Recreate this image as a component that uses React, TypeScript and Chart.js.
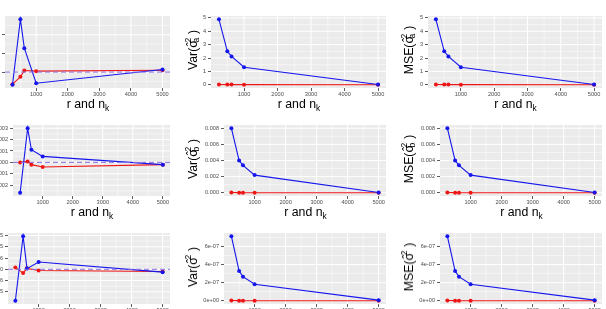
import React, { useEffect, useRef } from "react";
import { Chart, registerables } from "chart.js";

Chart.register(...registerables);

// Sample sizes (r = n_k) on the x axis
const sizes = [250, 500, 625, 1000, 5000];
const xTickValues = [1000, 2000, 3000, 4000, 5000];

// Bias of the sigma_a^2 estimates
const biasA1 = [-0.136, 0.567, 0.256, -0.12, 0.028];
const biasA2 = [-0.13, -0.051, 0.017, 0.01, 0.02];
const biasATicks = [0, 0.2, 0.4];
const biasALabels = ["0.0", "0.2", "0.4"];

// Bias of the sigma_b^2 estimates
const biasB1 = [-0.000267, 0.0003, 0.000111, 0.0000525, -0.00002];
const biasB2 = [0, 0.0000083, -0.00002, -0.00004, -0.00002];
const biasBTicks = [-0.0002, -0.0001, 0, 0.0001, 0.0002, 0.0003];
const biasBLabels = ["-0.0002", "-0.0001", "0.0000", "0.0001", "0.0002", "0.0003"];

// Bias of the sigma^2 estimates
const biasE1 = [-1.4e-5, 1.47e-5, 0.3e-6, 3.26e-6, -1.27e-6];
const biasE2 = [0.85e-6, -1.7e-6, 0.42e-6, -0.55e-6, -0.97e-6];
const biasETicks = [-1e-5, -5e-6, 0, 5e-6, 1e-5, 1.5e-5];
const biasELabels = ["-1.0e-05", "-5.0e-06", "0.0e+00", "5.0e-06", "1.0e-05", "1.5e-05"];

// Variance of the estimates
const varA1 = [4.9, 2.5, 2.12, 1.31, 0.02];
const varA2 = [0.02, 0.012, 0.01, 0.006, 0.001];
const varATicks = [0, 1, 2, 3, 4, 5];
const varALabels = ["0", "1", "2", "3", "4", "5"];

const varB1 = [0.008, 0.004, 0.0034, 0.00219, 0.00004];
const varB2 = [0.00003, 0.000015, 0.000012, 0.000008, 0.000002];
const varBTicks = [0, 0.002, 0.004, 0.006, 0.008];
const varBLabels = ["0.000", "0.002", "0.004", "0.006", "0.008"];

const varE1 = [7.12e-7, 3.28e-7, 2.66e-7, 1.83e-7, 0.07e-7];
const varE2 = [3e-9, 1.5e-9, 1.2e-9, 0.8e-9, 0.2e-9];
const varETicks = [0, 2e-7, 4e-7, 6e-7];
const varELabels = ["0e+00", "2e-07", "4e-07", "6e-07"];

// Mean squared error of the estimates
const mseA1 = [4.9, 2.5, 2.12, 1.31, 0.02];
const mseA2 = [0.02, 0.012, 0.01, 0.006, 0.001];
const mseB1 = [0.008, 0.004, 0.0034, 0.00219, 0.00004];
const mseB2 = [0.00003, 0.000015, 0.000012, 0.000008, 0.000002];
const mseE1 = [7.12e-7, 3.28e-7, 2.66e-7, 1.83e-7, 0.07e-7];
const mseE2 = [3e-9, 1.5e-9, 1.2e-9, 0.8e-9, 0.2e-9];

// Styling / layout
const FONT = "'Liberation Sans', Arial, Helvetica, sans-serif";
const BLUE = "#1515EE";
const RED = "#EE1515";
const ZERO_COLOR = "#8A6FE0";
const PANEL_BG = "#EBEBEB";
const TICK_COLOR = "#4D4D4D";
const Y_W = 60;
const X_H = 22;
const R_PAD = 3;
const X_RANGE = sizes[sizes.length - 1] - sizes[0];
const X_MIN = sizes[0] - X_RANGE * 0.05;
const X_MAX = sizes[sizes.length - 1] + X_RANGE * 0.05;

const ROWS: [number, number][] = [
  [12, 88],
  [121, 196],
  [229, 304],
];
const COLS: [number, number][][] = [
  [[5, 171], [13, 171], [8, 171]],
  [[211, 387], [224, 387], [224, 387]],
  [[428, 603], [440, 603], [440, 603]],
];

type PanelSpec = {
  key: string;
  row: number;
  col: number;
  s1: number[];
  s2: number[];
  yTicks: number[];
  yLabels: string[];
  zeroLine: boolean;
};

const panels: PanelSpec[] = [
  { key: "ba", row: 0, col: 0, s1: biasA1, s2: biasA2, yTicks: biasATicks, yLabels: biasALabels, zeroLine: true },
  { key: "va", row: 0, col: 1, s1: varA1, s2: varA2, yTicks: varATicks, yLabels: varALabels, zeroLine: false },
  { key: "ma", row: 0, col: 2, s1: mseA1, s2: mseA2, yTicks: varATicks, yLabels: varALabels, zeroLine: false },
  { key: "bb", row: 1, col: 0, s1: biasB1, s2: biasB2, yTicks: biasBTicks, yLabels: biasBLabels, zeroLine: true },
  { key: "vb", row: 1, col: 1, s1: varB1, s2: varB2, yTicks: varBTicks, yLabels: varBLabels, zeroLine: false },
  { key: "mb", row: 1, col: 2, s1: mseB1, s2: mseB2, yTicks: varBTicks, yLabels: varBLabels, zeroLine: false },
  { key: "be", row: 2, col: 0, s1: biasE1, s2: biasE2, yTicks: biasETicks, yLabels: biasELabels, zeroLine: true },
  { key: "ve", row: 2, col: 1, s1: varE1, s2: varE2, yTicks: varETicks, yLabels: varELabels, zeroLine: false },
  { key: "me", row: 2, col: 2, s1: mseE1, s2: mseE2, yTicks: varETicks, yLabels: varELabels, zeroLine: false },
];

function minorValues(vals: number[], min: number, max: number): number[] {
  if (vals.length < 2) return [];
  const step = vals[1] - vals[0];
  const out: number[] = [];
  for (let i = -1; i < vals.length; i++) {
    const v = vals[0] + (i + 0.5) * step;
    if (v >= min && v <= max) out.push(v);
  }
  return out;
}

// Grey panel with white major and minor grid lines
const panelGrid = {
  id: "panelGrid",
  beforeDraw(chart: any) {
    const { ctx, chartArea: a } = chart;
    const xs = chart.scales.x;
    const ys = chart.scales.y;
    ctx.save();
    ctx.fillStyle = PANEL_BG;
    ctx.fillRect(a.left, a.top, a.right - a.left, a.bottom - a.top);
    ctx.beginPath();
    ctx.rect(a.left, a.top, a.right - a.left, a.bottom - a.top);
    ctx.clip();
    const xt = xs.ticks.map((t: any) => t.value);
    const yt = ys.ticks.map((t: any) => t.value);
    const vline = (v: number, w: number) => {
      const px = xs.getPixelForValue(v);
      ctx.lineWidth = w;
      ctx.beginPath();
      ctx.moveTo(px, a.top);
      ctx.lineTo(px, a.bottom);
      ctx.stroke();
    };
    const hline = (v: number, w: number) => {
      const py = ys.getPixelForValue(v);
      ctx.lineWidth = w;
      ctx.beginPath();
      ctx.moveTo(a.left, py);
      ctx.lineTo(a.right, py);
      ctx.stroke();
    };
    ctx.strokeStyle = "#FFFFFF";
    minorValues(xt, xs.min, xs.max).forEach((v) => vline(v, 0.5));
    minorValues(yt, ys.min, ys.max).forEach((v) => hline(v, 0.5));
    xt.forEach((v: number) => vline(v, 1));
    yt.forEach((v: number) => hline(v, 1));
    ctx.restore();
  },
};

function series(values: number[], color: string) {
  return {
    type: "line",
    data: sizes.map((x, i) => ({ x, y: values[i] })),
    borderColor: color,
    backgroundColor: color,
    borderWidth: 1.1,
    pointRadius: 2,
    pointBorderWidth: 0,
    pointBackgroundColor: color,
    tension: 0,
  };
}

function PanelChart({ spec }: { spec: PanelSpec }) {
  const ref = useRef<HTMLCanvasElement>(null);
  const [t, b] = ROWS[spec.row];
  const [l, r] = COLS[spec.col][spec.row];
  const w = r - l + Y_W + R_PAD;
  const h = b - t + X_H;

  useEffect(() => {
    const all = [...spec.s1, ...spec.s2, ...(spec.zeroLine ? [0] : [])];
    const lo = Math.min(...all);
    const hi = Math.max(...all);
    const pad = (hi - lo) * 0.05;
    const datasets: any[] = [];
    if (spec.zeroLine) {
      datasets.push({
        type: "line",
        data: [
          { x: X_MIN, y: 0 },
          { x: X_MAX, y: 0 },
        ],
        borderColor: ZERO_COLOR,
        borderDash: [5, 3],
        borderWidth: 1,
        pointRadius: 0,
      });
    }
    datasets.push(series(spec.s1, BLUE));
    datasets.push(series(spec.s2, RED));

    const tickFont = { family: FONT, size: 5.6 };
    const chart = new Chart(ref.current as HTMLCanvasElement, {
      type: "line",
      data: { datasets },
      plugins: [panelGrid],
      options: {
        animation: false,
        responsive: false,
        maintainAspectRatio: false,
        layout: { padding: { left: 0, right: R_PAD, top: 0, bottom: 0 } },
        plugins: { legend: { display: false }, tooltip: { enabled: false } },
        scales: {
          x: {
            type: "linear",
            min: X_MIN,
            max: X_MAX,
            afterBuildTicks: (s: any) => {
              s.ticks = xTickValues.map((v) => ({ value: v }));
            },
            afterFit: (s: any) => {
              s.height = X_H;
              s.paddingLeft = 0;
              s.paddingRight = 0;
            },
            ticks: {
              font: tickFont,
              color: TICK_COLOR,
              padding: 0,
              maxRotation: 0,
              autoSkip: false,
              callback: (v: any) => String(v),
            },
            grid: { drawOnChartArea: false, drawTicks: true, tickLength: 3, tickColor: "#333333", tickWidth: 0.8 },
            border: { display: false },
          },
          y: {
            type: "linear",
            min: lo - pad,
            max: hi + pad,
            afterBuildTicks: (s: any) => {
              s.ticks = spec.yTicks.map((v) => ({ value: v }));
            },
            afterFit: (s: any) => {
              s.width = Y_W;
              s.paddingTop = 0;
              s.paddingBottom = 0;
            },
            ticks: {
              font: tickFont,
              color: TICK_COLOR,
              padding: 2,
              autoSkip: false,
              callback: (_v: any, i: number) => spec.yLabels[i],
            },
            grid: { drawOnChartArea: false, drawTicks: true, tickLength: 3, tickColor: "#333333", tickWidth: 0.8 },
            border: { display: false },
          },
        },
      } as any,
    });
    return () => chart.destroy();
  }, [spec]);

  return (
    <canvas
      ref={ref}
      width={w}
      height={h}
      style={{ position: "absolute", left: l - Y_W, top: t, width: w, height: h }}
    />
  );
}

function SigmaHat({ sub }: { sub?: string }) {
  return (
    <span style={{ position: "relative", display: "inline-block", lineHeight: "1em", paddingRight: "0.5em" }}>
      σ
      <span style={{ position: "absolute", left: 0, width: "0.6em", top: "-0.05em", textAlign: "center", lineHeight: "1em" }}>
        ˆ
      </span>
      <span style={{ position: "absolute", left: "0.6em", top: "-0.3em", fontSize: "0.7em", lineHeight: "1em" }}>2</span>
      {sub ? (
        <span style={{ position: "absolute", left: "0.6em", top: "0.62em", fontSize: "0.7em", lineHeight: "1em" }}>{sub}</span>
      ) : null}
    </span>
  );
}

const TITLE_SIZE = 12.3;
const TITLE_LH = 14;
const BASELINE_OFF = 11.26;

function XTitle({ cx, baseline }: { cx: number; baseline: number }) {
  return (
    <div
      style={{
        position: "absolute",
        left: cx,
        top: baseline - BASELINE_OFF,
        transform: "translateX(-50%)",
        fontFamily: FONT,
        fontSize: TITLE_SIZE,
        lineHeight: `${TITLE_LH}px`,
        height: TITLE_LH,
        whiteSpace: "nowrap",
        color: "#000",
      }}
    >
      r and n
      <span style={{ fontSize: "0.68em", position: "relative", top: "0.3em" }}>k</span>
    </div>
  );
}

function YTitle({ baselineX, cy, stat, sub }: { baselineX: number; cy: number; stat: string; sub?: string }) {
  const cx = baselineX - (BASELINE_OFF - TITLE_LH / 2);
  return (
    <div
      style={{
        position: "absolute",
        left: cx,
        top: cy,
        transform: "translate(-50%, -50%) rotate(-90deg)",
        fontFamily: FONT,
        fontSize: TITLE_SIZE,
        lineHeight: `${TITLE_LH}px`,
        height: TITLE_LH,
        whiteSpace: "nowrap",
        color: "#000",
      }}
    >
      {stat}(
      <SigmaHat sub={sub} />)
    </div>
  );
}

const statTitles = [
  { col: 1, stat: "Var", baselineX: 197 },
  { col: 2, stat: "MSE", baselineX: 413 },
];
const paramSubs = ["a", "b", undefined];
const xTitleBaselines = [108.5, 216.5, 324.5];

export default function App() {
  return (
    <div
      style={{
        position: "fixed",
        left: 0,
        top: 0,
        width: 606,
        height: 309,
        overflow: "hidden",
        background: "#FFFFFF",
      }}
    >
      {panels.map((p) => (
        <PanelChart key={p.key} spec={p} />
      ))}
      {ROWS.map(([t, b], row) =>
        COLS.map((c, col) => (
          <XTitle key={`x${row}${col}`} cx={(c[row][0] + c[row][1]) / 2} baseline={xTitleBaselines[row]} />
        ))
      )}
      {ROWS.map(([t, b], row) =>
        statTitles.map((s) => (
          <YTitle
            key={`y${row}${s.col}`}
            baselineX={s.baselineX}
            cy={(t + b) / 2}
            stat={s.stat}
            sub={paramSubs[row]}
          />
        ))
      )}
    </div>
  );
}
